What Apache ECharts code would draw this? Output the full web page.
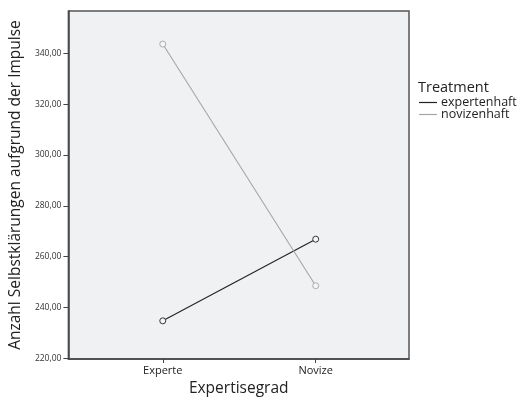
<!DOCTYPE html>
<html>
<head>
<meta charset="utf-8">
<script src="https://cdn.jsdelivr.net/npm/echarts@6/dist/echarts.min.js"></script>
<style>
  html, body { margin: 0; padding: 0; background: #fff; }
  #chart { width: 525px; height: 402px; }
</style>
</head>
<body>
<div id="chart"></div>
<script>
  // Kategorien und Mittelwerte
  var categories = ['Experte', 'Novize'];
  var expertenhaft = [234.8, 266.9];
  var novizenhaft = [343.6, 248.6];
  var yTicks = [220, 240, 260, 280, 300, 320, 340];

  function toPoints(arr) {
    var out = [];
    for (var i = 0; i < arr.length; i++) out.push([i, arr[i]]);
    return out;
  }

  var font = 'Open Sans';
  var chart = echarts.init(document.getElementById('chart'));
  chart.setOption({
    animation: false,
    backgroundColor: '#ffffff',
    textStyle: { fontFamily: font },
    grid: {
      left: 66, top: 11, right: 116, bottom: 34,
      show: true,
      backgroundColor: '#f0f1f3',
      borderColor: '#555555',
      borderWidth: 1.5
    },
    legend: {
      left: 419, top: 96,
      orient: 'vertical',
      icon: 'rect',
      itemWidth: 18, itemHeight: 1.2,
      itemGap: -1,
      padding: 0,
      textStyle: { fontFamily: font, fontSize: 12.5, lineHeight: 10, color: '#222', padding: [0, 0, 0, -1] },
      data: [
        { name: 'expertenhaft', itemStyle: { color: '#222222', borderWidth: 0 } },
        { name: 'novizenhaft', itemStyle: { color: '#a6a6a6', borderWidth: 0 } }
      ]
    },
    graphic: [{
      type: 'text', left: 418, top: 80,
      style: { text: 'Treatment', fontFamily: font, fontSize: 14.5, fill: '#222' }
    }],
    xAxis: {
      type: 'value',
      min: -0.617, max: 1.61,
      name: 'Expertisegrad',
      nameLocation: 'middle',
      nameGap: 22,
      nameTextStyle: { fontFamily: font, fontSize: 15.5, color: '#222' },
      splitLine: { show: false },
      axisLine: { show: true, onZero: false, lineStyle: { color: '#444', width: 1.5 } },
      axisTick: { show: true, customValues: [0, 1], length: 4, lineStyle: { color: '#444' } },
      axisLabel: {
        customValues: [0, 1],
        margin: 6,
        fontSize: 11, color: '#222', fontFamily: font,
        formatter: function (v) { return categories[Math.round(v)]; }
      }
    },
    yAxis: {
      type: 'value',
      min: 219.8, max: 356.6,
      name: 'Anzahl Selbstklärungen aufgrund der Impulse',
      nameLocation: 'middle',
      nameGap: 39,
      nameTextStyle: { fontFamily: font, fontSize: 15.5, color: '#222' },
      splitLine: { show: false },
      axisLine: { show: true, onZero: false, lineStyle: { color: '#444', width: 1.5 } },
      axisTick: { show: true, customValues: yTicks, length: 5, lineStyle: { color: '#444' } },
      axisLabel: {
        customValues: yTicks,
        margin: 7,
        fontSize: 8.5, color: '#333', fontFamily: font,
        formatter: function (v) { return v.toFixed(2).replace('.', ','); }
      }
    },
    series: [{
      name: 'expertenhaft',
      type: 'line',
      data: toPoints(expertenhaft),
      symbol: 'circle', symbolSize: 6,
      color: '#222222',
      lineStyle: { width: 1.1, color: '#222222' },
      itemStyle: { color: '#f4f5f7', borderColor: '#222222', borderWidth: 0.9 }
    }, {
      name: 'novizenhaft',
      type: 'line',
      data: toPoints(novizenhaft),
      symbol: 'circle', symbolSize: 6,
      color: '#a6a6a6',
      lineStyle: { width: 1.1, color: '#a6a6a6' },
      itemStyle: { color: '#f4f5f7', borderColor: '#a6a6a6', borderWidth: 0.9 }
    }]
  });
</script>
</body>
</html>
